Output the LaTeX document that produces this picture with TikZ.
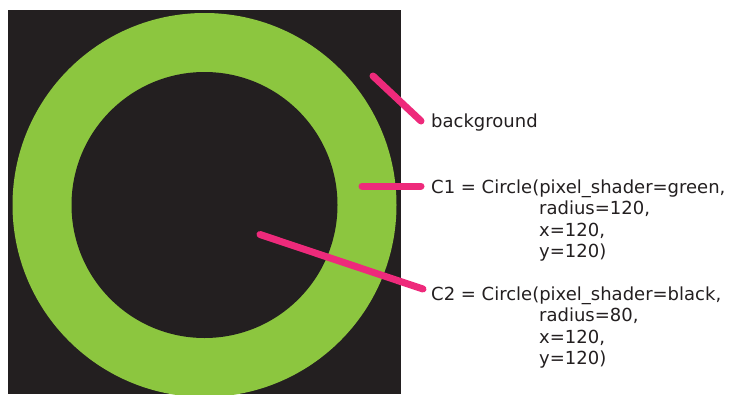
\documentclass[tikz,border=0pt]{standalone}
\usepackage{fontspec}
\setmainfont{DejaVu Sans}
\definecolor{bgdark}{HTML}{231F20}
\definecolor{ringgreen}{HTML}{8CC63F}
\definecolor{pinkline}{HTML}{EE2A7B}
\definecolor{txt}{HTML}{231F20}
\begin{document}
\begin{tikzpicture}[x=1pt,y=-1pt,
  lbl/.style={anchor=base west,inner sep=0pt,text=txt,font=\fontsize{18}{21}\selectfont},
  pointer/.style={draw=pinkline,line width=7pt,line cap=round}]
\useasboundingbox (0,0) rectangle (731,394);
\begin{scope}
\clip (8,10) rectangle (401,394);
\fill[bgdark] (8,10) rectangle (401,394);
\fill[ringgreen] (204.5,205) circle[radius=192];
\fill[bgdark] (204.5,205) circle[radius=133];
\end{scope}
% labels
\node[lbl] (bg) at (431,127) {background};
\node[lbl] (c1a) at (431,193) {C1 = Circle(pixel\_shader=green,};
\node[lbl] (c1b) at (539,214.5) {radius=120,};
\node[lbl] (c1c) at (539,236) {x=120,};
\node[lbl] (c1d) at (539,257.5) {y=120)};
\node[lbl] (c2a) at (431,300) {C2 = Circle(pixel\_shader=black,};
\node[lbl] (c2b) at (539,321.5) {radius=80,};
\node[lbl] (c2c) at (539,343) {x=120,};
\node[lbl] (c2d) at (539,364.5) {y=120)};
% pointer ends
\coordinate (bgs) at (373,76);
\coordinate (bge) at (421,121);
\coordinate (c1s) at (362,186);
\coordinate (c1e) at (421,186);
\coordinate (c2s) at (260,234.5);
\coordinate (c2e) at (423,289);
\draw[pointer] (bgs) -- (bge);
\draw[pointer] (c1s) -- (c1e);
\draw[pointer] (c2s) -- (c2e);
\end{tikzpicture}
\end{document}
